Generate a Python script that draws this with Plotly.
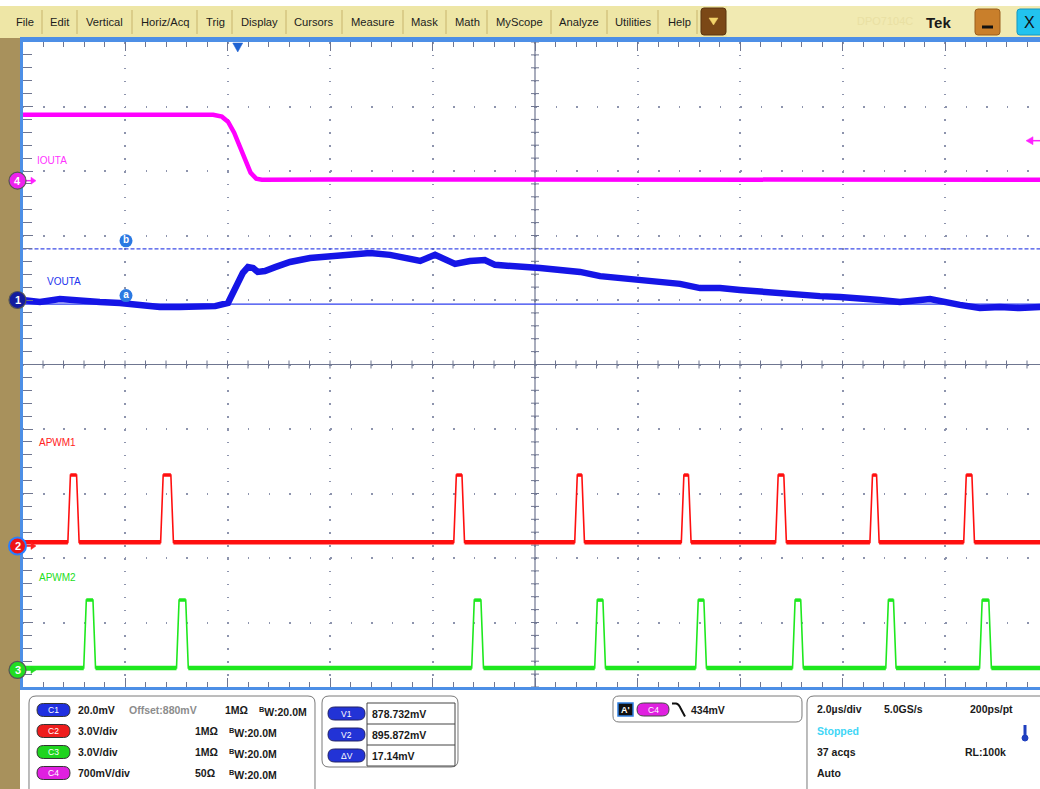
import plotly.graph_objects as go

MENU_ITEMS = ["File", "Edit", "Vertical", "Horiz/Acq", "Trig", "Display", "Cursors",
              "Measure", "Mask", "Math", "MyScope", "Analyze", "Utilities", "Help"]
MENU_X = [25, 60, 104, 165, 215, 259, 314, 373, 424, 467, 519, 579, 633, 679]
MENU_SEP = [42, 77, 132, 197, 232, 286, 342, 403, 446, 487, 551, 607, 658, 697]

# time in microseconds from the left edge of the graticule (2.0 us/div)
iout_t = [0.00, 1.00, 2.00, 3.00, 3.72, 3.89, 4.01, 4.13, 4.24, 4.36, 4.45, 4.56, 4.67,
          6.0, 8.0, 10.0, 12.0, 14.0, 16.0, 18.0, 19.86]
iout_mv = [716, 718, 716, 717, 716, 695, 640, 521, 380, 217, 87, 22, 11,
           12, 11, 12, 10, 11, 12, 10, 11]

vout_t = [0.00, 0.34, 0.73, 1.12, 1.51, 1.90, 2.29, 2.68, 3.07, 3.46, 3.76, 4.01, 4.17,
          4.30, 4.40, 4.50, 4.59, 4.73, 4.93, 5.22, 5.61, 6.00, 6.39, 6.78, 7.17, 7.56,
          7.76, 8.05, 8.24, 8.44, 8.73, 9.02, 9.22, 9.71, 10.10, 10.49, 10.88, 11.27,
          11.66, 12.05, 12.44, 12.83, 13.22, 13.61, 14.00, 14.39, 14.78, 15.17, 15.56,
          15.95, 16.34, 16.73, 17.12, 17.71, 18.29, 18.68, 19.07, 19.46, 19.86]
vout_mv = [880.0, 879.4, 880.3, 879.7, 879.4, 879.1, 878.5, 877.8, 877.8, 878.1, 878.1,
           879.1, 884.3, 888.4, 890.2, 889.9, 888.7, 889.0, 890.2, 891.8, 893.0, 893.6,
           894.3, 894.6, 894.0, 893.0, 892.1, 894.0, 892.4, 891.2, 892.1, 892.4, 890.9,
           890.5, 889.9, 889.3, 888.7, 887.4, 886.8, 886.2, 885.3, 885.0, 883.7, 883.7,
           883.1, 882.5, 882.2, 881.6, 881.2, 880.9, 880.6, 880.0, 879.4, 880.3, 878.5,
           877.5, 877.8, 877.5, 877.8]

apwm1_rise_us = [0.91, 2.72, 8.44, 10.80, 12.88, 14.72, 16.56, 18.39]
apwm1_fall_us = [1.08, 2.92, 8.60, 10.94, 13.02, 14.88, 16.69, 18.55]
apwm2_rise_us = [1.22, 3.03, 8.79, 11.19, 13.16, 15.05, 16.87, 18.70]
apwm2_fall_us = [1.40, 3.21, 8.97, 11.35, 13.32, 15.21, 17.02, 18.88]
apwm1_low_v, apwm1_high_v = 0.17, 3.30
apwm2_low_v, apwm2_high_v = 0.09, 3.25
edge_us = 0.05

cursor_v1_mv = 878.732
cursor_v2_mv = 895.872
trig_level_mv = 434
trig_time_us = 4.20

# channel vertical settings: scale per div, offset, marker position (div from bottom)
CH = {
    1: dict(scale=20.0, offset=880.0, pos=6.00),    # mV
    2: dict(scale=3.0, offset=0.0, pos=2.186),      # V
    3: dict(scale=3.0, offset=0.0, pos=0.264),      # V
    4: dict(scale=700.0, offset=0.0, pos=7.85),     # mV
}

# ---------------- geometry ----------------
W, H = 1040, 789
GX0, GY0, GY1 = 22.5, 42.0, 687.0
DPX_X = 102.5
DPX_Y = (GY1 - GY0) / 10.0
US_DIV = 2.0
T_MAX = (W - GX0) / DPX_X * US_DIV

FONT = "Liberation Sans, Arial, sans-serif"


def div(v, ch):
    c = CH[ch]
    return c["pos"] + (v - c["offset"]) / c["scale"]


def X(px):
    return px / W


def Y(py):
    return 1 - py / H


def P(x, y):
    return f"{X(x):.5f},{Y(y):.5f}"


def rrect(x0, y0, x1, y1, r):
    return (f"M {P(x0 + r, y0)} L {P(x1 - r, y0)} Q {P(x1, y0)} {P(x1, y0 + r)} "
            f"L {P(x1, y1 - r)} Q {P(x1, y1)} {P(x1 - r, y1)} L {P(x0 + r, y1)} "
            f"Q {P(x0, y1)} {P(x0, y1 - r)} L {P(x0, y0 + r)} Q {P(x0, y0)} {P(x0 + r, y0)} Z")


def pwm(rises, falls, low, high):
    fx, fy = [0.0], [low]
    lx, ly = [0.0], [low]
    hx, hy = [], []
    for r, f in zip(rises, falls):
        fx += [r - edge_us / 2, r + edge_us / 2, f - edge_us / 2, f + edge_us / 2]
        fy += [low, high, high, low]
        lx += [r - edge_us / 2, None, f + edge_us / 2]
        ly += [low, None, low]
        hx += [r + edge_us / 2, f - edge_us / 2, None]
        hy += [high, high, None]
    fx.append(T_MAX); fy.append(low)
    lx.append(T_MAX); ly.append(low)
    return fx, fy, lx, ly, hx, hy


shapes, annots = [], []


def rect(x0, y0, x1, y1, fill, line=None, lw=0, layer="below"):
    shapes.append(dict(type="rect", xref="paper", yref="paper", x0=X(x0), x1=X(x1),
                       y0=Y(y1), y1=Y(y0), fillcolor=fill, layer=layer,
                       line=dict(color=line or fill, width=lw)))


def path(d, fill=None, line="black", lw=1, layer="above"):
    s = dict(type="path", xref="paper", yref="paper", path=d, layer=layer,
             line=dict(color=line, width=lw))
    if fill:
        s["fillcolor"] = fill
    shapes.append(s)


def seg(x0, y0, x1, y1, color, lw=1, layer="above", dash="solid"):
    shapes.append(dict(type="line", xref="paper", yref="paper", x0=X(x0), y0=Y(y0),
                       x1=X(x1), y1=Y(y1), layer=layer, line=dict(color=color, width=lw, dash=dash)))


def circ(cx, cy, r, fill, line, lw=1):
    shapes.append(dict(type="circle", xref="paper", yref="paper", x0=X(cx - r), x1=X(cx + r),
                       y0=Y(cy + r), y1=Y(cy - r), fillcolor=fill, layer="above",
                       line=dict(color=line, width=lw)))


def text(x, y, s, size=10.5, color="#1a1a1a", anchor="left", bold=True, family=FONT):
    annots.append(dict(xref="paper", yref="paper", x=X(x), y=Y(y), text=(f"<b>{s}</b>" if bold else s),
                       showarrow=False, xanchor=anchor, yanchor="middle",
                       font=dict(family=family, size=size, color=color)))


# ---------------- frame / menu ----------------
rect(0, 0, W, 6, "#ffffff")
rect(0, 6, W, 38, "#eee6a6")
rect(727, 6, W, 38, "#f1eab2")
rect(0, 38, 20, H, "#a8915c")
rect(20, 37, W, 40, "#4d8fe6")
for sx in MENU_SEP:
    seg(sx, 10, sx, 34, "#c8b46c", 1, layer="below")
for name, mx in zip(MENU_ITEMS, MENU_X):
    text(mx, 22, name, size=11.2, color="#1c1c1c", anchor="center", bold=False)
path(rrect(701, 8, 726, 35, 3), fill="#7b4816", line="#5a3410", lw=1)
path(f"M {P(709, 18)} L {P(718, 18)} L {P(713.5, 25)} Z", fill="#f2d36a", line="#f2d36a", lw=0.5)
text(915, 21, "DPO7104C", size=11, color="#e9e0a3", anchor="right", bold=False)
text(938, 22, "Tek", size=15, color="#1a1a1a", anchor="center")
path(rrect(975, 9, 1000, 35, 3), fill="#c97f2b", line="#9a5e1d", lw=1)
seg(982, 27, 993, 27, "#111111", 3)
path(rrect(1017, 9, 1046, 35, 3), fill="#22c3ef", line="#1596c0", lw=1)
text(1029, 22, "X", size=16, color="#111111", anchor="center", bold=False)

# ---------------- bottom readout panel ----------------
path(rrect(29, 696, 315, 800, 7), fill="#ffffff", line="#7a7a7a", lw=1, layer="below")
path(rrect(322, 696, 458, 767, 7), fill="#ffffff", line="#7a7a7a", lw=1, layer="below")
path(rrect(613, 696, 802, 722, 6), fill="#ffffff", line="#7a7a7a", lw=1, layer="below")
path(rrect(807, 696, 1060, 800, 7), fill="#ffffff", line="#7a7a7a", lw=1, layer="below")

pill_cols = {"C1": "#1f2fe0", "C2": "#ee1c1c", "C3": "#1fd41f", "C4": "#e020e0"}
rows_y = [710, 731, 752, 773]
ch_rows = [("C1", "20.0mV", "1MΩ", 223), ("C2", "3.0V/div", "1MΩ", 193),
           ("C3", "3.0V/div", "1MΩ", 193), ("C4", "700mV/div", "50Ω", 193)]
for (lab, sc, imp, ix), ry in zip(ch_rows, rows_y):
    path(rrect(37, ry - 6.5, 70, ry + 6.5, 6.5), fill=pill_cols[lab], line="#333333", lw=1)
    text(53.5, ry, lab, size=8.5, color="#ffffff", anchor="center", bold=False)
    text(76, ry, sc)
    text(ix, ry, imp)
    text(ix + 34, ry + 1, "<sup>B</sup>W:20.0M")
text(127, rows_y[0], "Offset:880mV", color="#8c8c8c")

vrows = [("V1", f"{cursor_v1_mv:.3f}mV"), ("V2", f"{cursor_v2_mv:.3f}mV"),
         ("ΔV", f"{cursor_v2_mv - cursor_v1_mv:.2f}mV")]
tab_y = [703, 724, 745, 766]
rect(367, 703, 455, 766, "rgba(0,0,0,0)", line="#444444", lw=1, layer="above")
for yl in tab_y[1:3]:
    seg(367, yl, 455, yl, "#444444", 1)
for (lab, val), y0, y1 in zip(vrows, tab_y[:-1], tab_y[1:]):
    cy = (y0 + y1) / 2
    path(rrect(328, cy - 6.5, 365, cy + 6.5, 6.5), fill="#2233d6", line="#222266", lw=1)
    text(346.5, cy, lab, size=8.5, color="#ffffff", anchor="center", bold=False)
    text(370, cy, val)

rect(618, 703, 633, 716, "#111111", line="#2f7fe0", lw=1.5, layer="above")
text(625.5, 709.5, "A'", size=9, color="#ffffff", anchor="center")
path(rrect(637, 703, 669, 716, 6.5), fill="#e020e0", line="#444444", lw=1)
text(653, 709.5, "C4", size=8.5, color="#ffffff", anchor="center", bold=False)
path(f"M {P(672, 703.5)} L {P(676, 703.5)} Q {P(679, 704)} {P(681, 709)} L {P(685, 716.5)}",
     line="#111111", lw=2)
text(689, 709.5, f"{trig_level_mv}mV")

text(815, 709, "2.0µs/div")
text(882, 709, "5.0GS/s")
text(968, 709, "200ps/pt")
text(815, 731, "Stopped", color="#3fd6f6")
seg(1025, 725, 1025, 736, "#1f3fbf", 3)
circ(1025, 738, 3, "#1f3fbf", "#1f3fbf")
text(815, 752, "37 acqs")
text(963, 752, "RL:100k")
text(815, 773, "Auto")

# ---------------- graticule decorations ----------------
# trigger position and trigger level markers
tx = GX0 + trig_time_us / US_DIV * DPX_X
path(f"M {P(tx - 5, 43)} L {P(tx + 5, 43)} L {P(tx, 52)} Z", fill="#1f63d2", line="#1f63d2", lw=0.5)
ty = GY1 - div(trig_level_mv, 4) * DPX_Y
seg(1028, ty, W, ty, "#ff22ff", 1.5)
path(f"M {P(1026, ty)} L {P(1033, ty - 4)} L {P(1033, ty + 4)} Z", fill="#ff22ff", line="#ff22ff", lw=0.5)

# channel ground markers
markers = [(4, "4", "#ee22ee", "#555555", "#ff22ff"), (1, "1", "#141c9e", "#555555", None),
           (2, "2", "#ee1414", "#2a7fff", "#ff2020"), (3, "3", "#22dd22", "#555555", "#22dd22")]
for ch, lab, fill, ring, arrow in markers:
    my = GY1 - CH[ch]["pos"] * DPX_Y
    if arrow:
        seg(26, my, 32, my, arrow, 1.5)
        path(f"M {P(36, my)} L {P(31, my - 3.5)} L {P(31, my + 3.5)} Z", fill=arrow, line=arrow, lw=0.5)
    circ(17.5, my, 8.5, fill, ring, 2 if ch == 2 else 1.2)
    text(17.5, my, lab, size=11, color="#ffffff", anchor="center")

# channel labels
text(35, 161, "IOUTA", size=10, color="#ff33ff", bold=False)
text(45, 281, "VOUTA", size=10, color="#2233ee", bold=False)
text(37, 442, "APWM1", size=10, color="#ff2222", bold=False)
text(37, 577, "APWM2", size=10, color="#22dd22", bold=False)

# center-line minor ticks (data coordinates)
ck_x, ck_y = [], []
hx_half = 4 / DPX_X * US_DIV
hy_half = 4 / DPX_Y
for k in range(51):
    yv = k * 0.2
    ck_x += [5 * US_DIV - hx_half, 5 * US_DIV + hx_half, None]
    ck_y += [yv, yv, None]
k = 0
while k * 0.4 <= T_MAX:
    ck_x += [k * 0.4, k * 0.4, None]
    ck_y += [5 - hy_half, 5 + hy_half, None]
    k += 1

GRID = "#6f7690"
shapes.append(dict(type="line", xref="x", yref="y", x0=5 * US_DIV, x1=5 * US_DIV, y0=0, y1=10,
                   layer="between", line=dict(color=GRID, width=1.2)))
shapes.append(dict(type="line", xref="x", yref="y", x0=0, x1=T_MAX, y0=5, y1=5,
                   layer="between", line=dict(color=GRID, width=1.2)))
# cursors
shapes.append(dict(type="line", xref="x", yref="y", x0=0, x1=T_MAX, y0=div(cursor_v1_mv, 1),
                   y1=div(cursor_v1_mv, 1), layer="between", line=dict(color="#2f3fee", width=1.2)))
shapes.append(dict(type="line", xref="x", yref="y", x0=0, x1=T_MAX, y0=div(cursor_v2_mv, 1),
                   y1=div(cursor_v2_mv, 1), layer="between",
                   line=dict(color="#3d4ce6", width=1.2, dash="4px,2px")))

# ---------------- traces ----------------
fig = go.Figure()
fig.add_trace(go.Scatter(x=ck_x, y=ck_y, mode="lines", line=dict(color=GRID, width=1),
                         hoverinfo="skip"))

fig.add_trace(go.Scatter(x=iout_t, y=[div(v, 4) for v in iout_mv], mode="lines",
                         line=dict(color="#ff00ff", width=4.5), hoverinfo="skip"))
fig.add_trace(go.Scatter(x=vout_t, y=[div(v, 1) for v in vout_mv], mode="lines",
                         line=dict(color="#1515e6", width=6.5), hoverinfo="skip"))

for rises, falls, lo, hi, ch, col in [
        (apwm1_rise_us, apwm1_fall_us, apwm1_low_v, apwm1_high_v, 2, "#ff0f0f"),
        (apwm2_rise_us, apwm2_fall_us, apwm2_low_v, apwm2_high_v, 3, "#1ee81e")]:
    fx, fy, lx, ly, hx, hy = pwm(rises, falls, lo, hi)
    conv = lambda arr: [None if v is None else div(v, ch) for v in arr]
    fig.add_trace(go.Scatter(x=fx, y=conv(fy), mode="lines", line=dict(color=col, width=1.6),
                             hoverinfo="skip"))
    fig.add_trace(go.Scatter(x=lx, y=conv(ly), mode="lines", line=dict(color=col, width=4.5),
                             hoverinfo="skip", connectgaps=False))
    fig.add_trace(go.Scatter(x=hx, y=conv(hy), mode="lines", line=dict(color=col, width=3.5),
                             hoverinfo="skip", connectgaps=False))

# cursor labels
lab_t = (126 - GX0) / DPX_X * US_DIV
fig.add_trace(go.Scatter(x=[lab_t, lab_t],
                         y=[div(cursor_v1_mv, 1) + 8.5 / DPX_Y, div(cursor_v2_mv, 1) + 8 / DPX_Y],
                         mode="markers+text", text=["<b>a</b>", "<b>b</b>"],
                         textposition="middle center",
                         textfont=dict(family=FONT, size=10, color="#ffffff"),
                         marker=dict(size=13, color="#2b79e2", line=dict(width=0)),
                         hoverinfo="skip", cliponaxis=False))

fig.update_layout(
    width=W, height=H, autosize=False, margin=dict(l=0, r=0, t=0, b=0, pad=0),
    paper_bgcolor="#ffffff", plot_bgcolor="#ffffff", showlegend=False,
    shapes=shapes, annotations=annots,
    xaxis=dict(domain=[GX0 / W, 1], range=[0, T_MAX], showticklabels=False, zeroline=False,
               showgrid=True, dtick=US_DIV, tick0=0, gridcolor="#8d94ad", gridwidth=1.5,
               griddash="1.5px,11.4px",
               ticks="inside", ticklen=9, tickwidth=1, tickcolor=GRID,
               minor=dict(ticks="inside", dtick=US_DIV / 5, tick0=0, ticklen=5,
                          tickwidth=1, tickcolor=GRID, showgrid=False),
               showline=True, linecolor="#4d8fe6", linewidth=3, mirror="allticks",
               fixedrange=True),
    yaxis=dict(domain=[1 - GY1 / H, 1 - GY0 / H], range=[0, 10], showticklabels=False,
               zeroline=False, showgrid=True, dtick=1, tick0=0, gridcolor="#8d94ad",
               gridwidth=1.5, griddash="1.5px,19px",
               ticks="inside", ticklen=10, tickwidth=1, tickcolor=GRID,
               minor=dict(ticks="inside", dtick=0.2, tick0=0, ticklen=9, tickwidth=1,
                          tickcolor=GRID, showgrid=False),
               showline=True, linecolor="#4d8fe6", linewidth=3, mirror=False,
               fixedrange=True),
)

fig.write_html("out.html", config={"displayModeBar": False},
               post_script="document.body.style.margin='0';document.body.style.overflow='hidden';")
